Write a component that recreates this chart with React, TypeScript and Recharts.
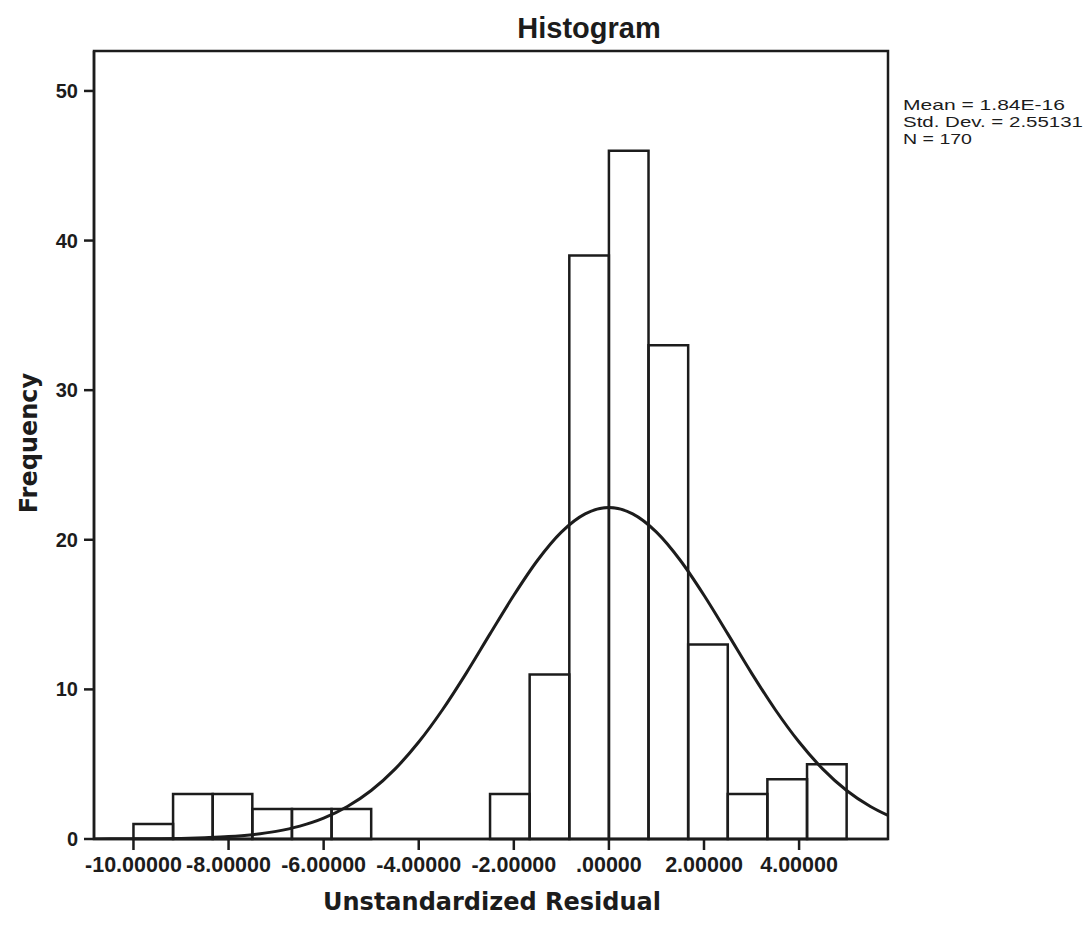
import React from 'react';
import { ComposedChart, Line, XAxis, YAxis, ReferenceArea } from 'recharts';

// histogram bins (lower edges) and counts
const binStarts = [-10.0, -9.167, -8.333, -7.5, -6.667, -5.833, -5.0, -4.167, -3.333, -2.5, -1.667, -0.833, 0.0, 0.833, 1.667, 2.5, 3.333, 4.167];
const binEnd = 5.0;
const counts = [1, 3, 3, 2, 2, 2, 0, 0, 0, 3, 11, 39, 46, 33, 13, 3, 4, 5];

// normal curve
const curveX = [-10.83, -10.5, -10, -9.5, -9, -8.5, -8, -7.5, -7, -6.5, -6, -5.5, -5, -4.5, -4, -3.5, -3, -2.5, -2, -1.5, -1, -0.5, 0, 0.5, 1, 1.5, 2, 2.5, 3, 3.5, 4, 4.5, 5, 5.5, 5.87];
const curveY = [0, 0.01, 0.01, 0.02, 0.04, 0.09, 0.16, 0.29, 0.51, 0.86, 1.39, 2.17, 3.24, 4.67, 6.48, 8.64, 11.09, 13.71, 16.29, 18.63, 20.51, 21.73, 22.15, 21.73, 20.51, 18.63, 16.29, 13.71, 11.09, 8.64, 6.48, 4.67, 3.24, 2.17, 1.57];

const xTicks = [-10, -8, -6, -4, -2, 0, 2, 4];
const yTicks = [0, 10, 20, 30, 40, 50];
const statLines = ['Mean = 1.84E-16', 'Std. Dev. = 2.55131', 'N = 170'];

const xMin = -10.83;
const xMax = 5.87;
const yMax = 52.67;

const ink = '#1c1c1c';

const fmtX = (v: number) => {
  const s = v.toFixed(5);
  return s.replace(/^(-?)0\./, '$1.');
};

export default function App() {
  const data = curveX.map((x, i) => ({ x, y: curveY[i] }));

  return (
    <div style={{ position: 'absolute', left: 0, top: 0, width: 1089, height: 926, background: '#fff' }}>
      <ComposedChart
        width={1089}
        height={926}
        data={data}
        margin={{ top: 51, right: 201, bottom: 47, left: 34 }}
      >
        <XAxis
          dataKey="x"
          type="number"
          domain={[xMin, xMax]}
          ticks={xTicks}
          tickFormatter={fmtX}
          allowDataOverflow
          height={40}
          tickSize={11}
          tickMargin={7}
          axisLine={{ stroke: ink, strokeWidth: 2.5 }}
          tickLine={{ stroke: ink, strokeWidth: 2.5 }}
          tick={{ fill: ink, fontSize: 21.5, fontWeight: 'bold', fontFamily: 'Liberation Sans, Arial, sans-serif' }}
        />
        <YAxis
          type="number"
          domain={[0, yMax]}
          ticks={yTicks}
          allowDataOverflow
          width={60}
          tickSize={10}
          tickMargin={6}
          axisLine={{ stroke: ink, strokeWidth: 2.5 }}
          tickLine={{ stroke: ink, strokeWidth: 2.5 }}
          tick={{ fill: ink, fontSize: 20, fontWeight: 'bold', fontFamily: 'Liberation Sans, Arial, sans-serif' }}
        />
        <ReferenceArea x1={xMin} x2={xMax} y1={0} y2={yMax} stroke={ink} strokeWidth={2.5} fill="none" fillOpacity={0} />
        {binStarts.map((b, i) =>
          counts[i] > 0 ? (
            <ReferenceArea
              key={i}
              x1={b}
              x2={i < binStarts.length - 1 ? binStarts[i + 1] : binEnd}
              y1={0}
              y2={counts[i]}
              stroke={ink}
              strokeWidth={2.5}
              fill="none"
              fillOpacity={0}
            />
          ) : null
        )}
        <Line
          dataKey="y"
          type="monotone"
          stroke={ink}
          strokeWidth={3}
          dot={false}
          activeDot={false}
          isAnimationActive={false}
        />
      </ComposedChart>
      <svg
        width={1089}
        height={926}
        style={{ position: 'absolute', left: 0, top: 0, pointerEvents: 'none' }}
      >
        <text x={589} y={38} textAnchor="middle" fill={ink} fontSize={29} fontWeight="bold" fontFamily="Liberation Sans, Arial, sans-serif">
          Histogram
        </text>
        <text x={492} y={910} textAnchor="middle" fill={ink} fontSize={24} fontWeight="bold" fontFamily="DejaVu Sans, Verdana, sans-serif">
          Unstandardized Residual
        </text>
        <text
          x={29}
          y={443}
          transform="rotate(-90 29 443)"
          textAnchor="middle"
          dominantBaseline="central"
          fill={ink}
          fontSize={24}
          fontWeight="bold"
          fontFamily="DejaVu Sans, Verdana, sans-serif"
        >
          Frequency
        </text>
        {statLines.map((s, i) => (
          <text
            key={s}
            x={903}
            y={110 + i * 17}
            fill={ink}
            fontSize={15}
            textLength={[162, 180, 69][i]}
            lengthAdjust="spacingAndGlyphs"
            fontFamily="Liberation Sans, Arial, sans-serif"
          >
            {s}
          </text>
        ))}
      </svg>
    </div>
  );
}
